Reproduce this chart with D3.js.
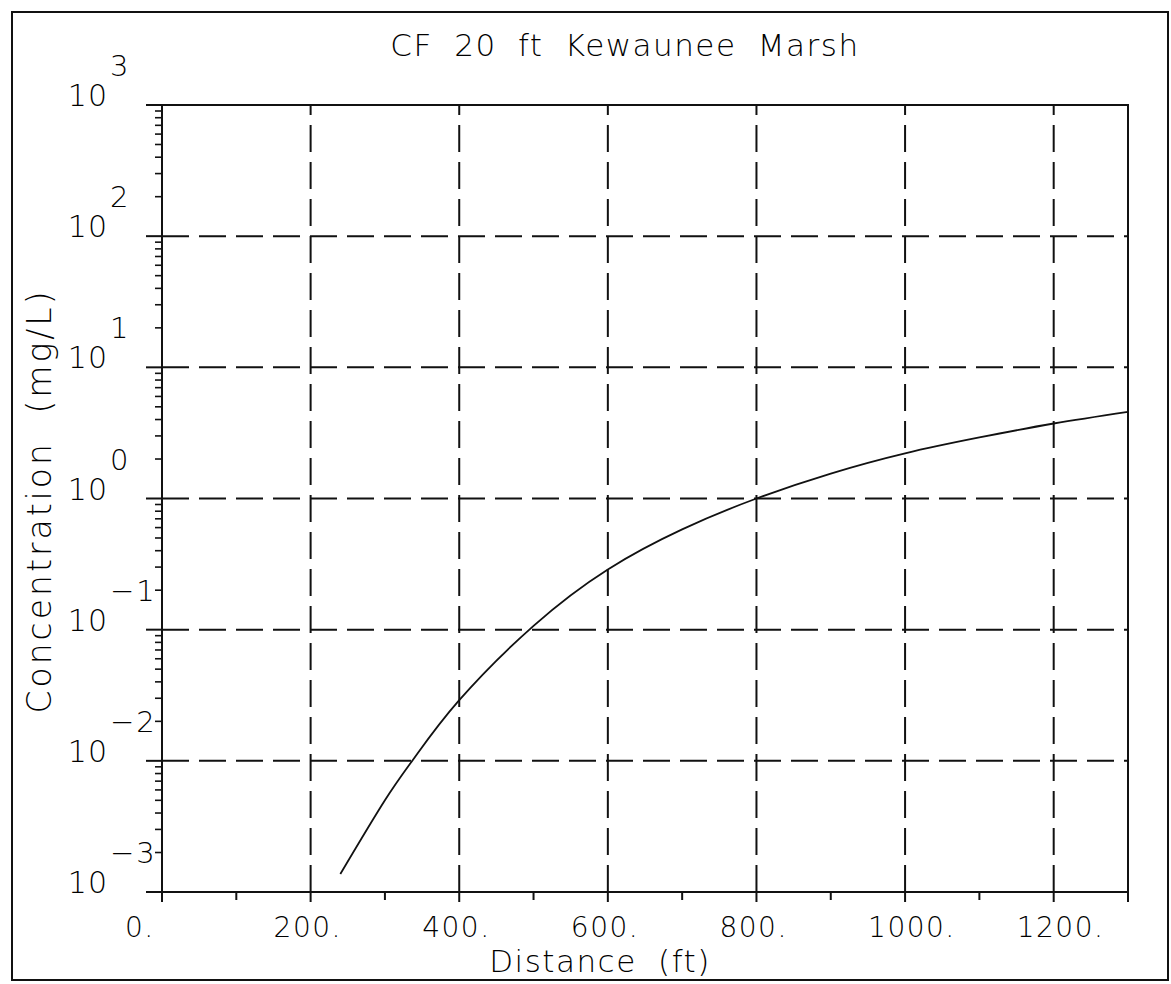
<!DOCTYPE html>
<html>
<head>
<meta charset="utf-8">
<script src="https://cdn.jsdelivr.net/npm/d3@7"></script>
<style>
  body { margin: 0; background: #fff; }
  text { font-family: "DejaVu Sans", sans-serif; font-weight: 200; fill: #000; }
</style>
</head>
<body>
<div id="chart"></div>
<script>
// values
var distance = [240, 300, 340, 400, 500, 600, 700, 800, 900, 1000, 1100, 1200, 1300];
var concentration = [0.00137, 0.0050, 0.0106, 0.029, 0.107, 0.288, 0.582, 1.0, 1.55, 2.21, 2.92, 3.73, 4.58];
var xTicks = [0, 100, 200, 300, 400, 500, 600, 700, 800, 900, 1000, 1100, 1200, 1300];
var xLabels = [0, 200, 400, 600, 800, 1000, 1200];
var decades = [-3, -2, -1, 0, 1, 2, 3];

var width = 1171, height = 984,
    pLeft = 162, pRight = 1128, pTop = 105, pBottom = 892;

var x = d3.scaleLinear().domain([0, 1300]).range([pLeft, pRight]),
    y = d3.scaleLog().domain([1e-3, 1e3]).range([pBottom, pTop]);

var svg = d3.select("#chart").append("svg")
    .attr("width", width)
    .attr("height", height);

// outer frame
svg.append("rect")
    .attr("x", 12).attr("y", 12)
    .attr("width", 1156).attr("height", 968)
    .attr("fill", "none").attr("stroke", "#111").attr("stroke-width", 2);

// grid
var grid = svg.append("g")
    .attr("stroke", "#111").attr("stroke-width", 2)
    .attr("stroke-dasharray", "27,10");
grid.selectAll(".vg")
    .data(xLabels.filter(d => d > 0))
    .enter().append("line")
    .attr("x1", d => x(d)).attr("x2", d => x(d))
    .attr("y1", pBottom).attr("y2", pTop);
grid.selectAll(".hg")
    .data(decades.slice(1, -1))
    .enter().append("line")
    .attr("x1", pLeft).attr("x2", pRight)
    .attr("y1", d => y(Math.pow(10, d))).attr("y2", d => y(Math.pow(10, d)));

// x ticks (every 100 ft, below the axis)
svg.append("g").selectAll("line")
    .data(xTicks)
    .enter().append("line")
    .attr("x1", d => x(d)).attr("x2", d => x(d))
    .attr("y1", pBottom).attr("y2", d => pBottom + (d % 200 === 0 || d === 1300 ? 10 : 8))
    .attr("stroke", "#111").attr("stroke-width", 2);

svg.append("g").selectAll("text")
    .data(xLabels)
    .enter().append("text")
    .attr("x", d => x(d) - 37)
    .attr("y", pBottom + 45)
    .attr("font-size", 28)
    .attr("letter-spacing", 1.5)
    .text(d => d + ".");

// y ticks: major at decades, minor at 2..9
var minor = [];
decades.slice(0, -1).forEach(function(e) {
    for (var m = 2; m < 10; m++) minor.push(m * Math.pow(10, e));
});
svg.append("g").selectAll("line")
    .data(minor)
    .enter().append("line")
    .attr("x1", pLeft - 7).attr("x2", pLeft)
    .attr("y1", d => y(d)).attr("y2", d => y(d))
    .attr("stroke", "#111").attr("stroke-width", 1.6);
svg.append("g").selectAll("line")
    .data(decades)
    .enter().append("line")
    .attr("x1", pLeft - 16).attr("x2", pLeft)
    .attr("y1", d => y(Math.pow(10, d))).attr("y2", d => y(Math.pow(10, d)))
    .attr("stroke", "#111").attr("stroke-width", 2);

var yl = svg.append("g").selectAll("g")
    .data(decades)
    .enter().append("g")
    .attr("transform", d => `translate(0,${y(Math.pow(10, d)) + 1})`);
yl.append("text")
    .attr("x", 108).attr("text-anchor", "end")
    .attr("font-size", 30)
    .attr("letter-spacing", 1)
    .text("10");
yl.append("text")
    .attr("x", 110).attr("y", -30)
    .attr("font-size", 29)
    .attr("letter-spacing", 2)
    .text(d => d < 0 ? "\u2212" + (-d) : d);

// plot frame
svg.append("rect")
    .attr("x", pLeft).attr("y", pTop)
    .attr("width", pRight - pLeft).attr("height", pBottom - pTop)
    .attr("fill", "none").attr("stroke", "#111").attr("stroke-width", 2);

// curve
var line = d3.line()
    .x((d, i) => x(distance[i]))
    .y(d => y(d))
    .curve(d3.curveNatural);
svg.append("path")
    .attr("d", line(concentration))
    .attr("fill", "none").attr("stroke", "#111").attr("stroke-width", 1.8);

// titles
svg.append("text")
    .attr("x", 625).attr("y", 56)
    .attr("text-anchor", "middle")
    .attr("font-size", 31)
    .attr("letter-spacing", 1.5)
    .attr("word-spacing", 10)
    .text("CF 20 ft Kewaunee Marsh");
svg.append("text")
    .attr("x", 600).attr("y", 972)
    .attr("text-anchor", "middle")
    .attr("font-size", 31)
    .attr("letter-spacing", 1.5)
    .attr("word-spacing", 10)
    .text("Distance (ft)");
svg.append("text")
    .attr("transform", "translate(51,501) rotate(-90)")
    .attr("text-anchor", "middle")
    .attr("font-size", 33)
    .attr("letter-spacing", 3)
    .attr("word-spacing", 14)
    .text("Concentration (mg/L)");
</script>
</body>
</html>
